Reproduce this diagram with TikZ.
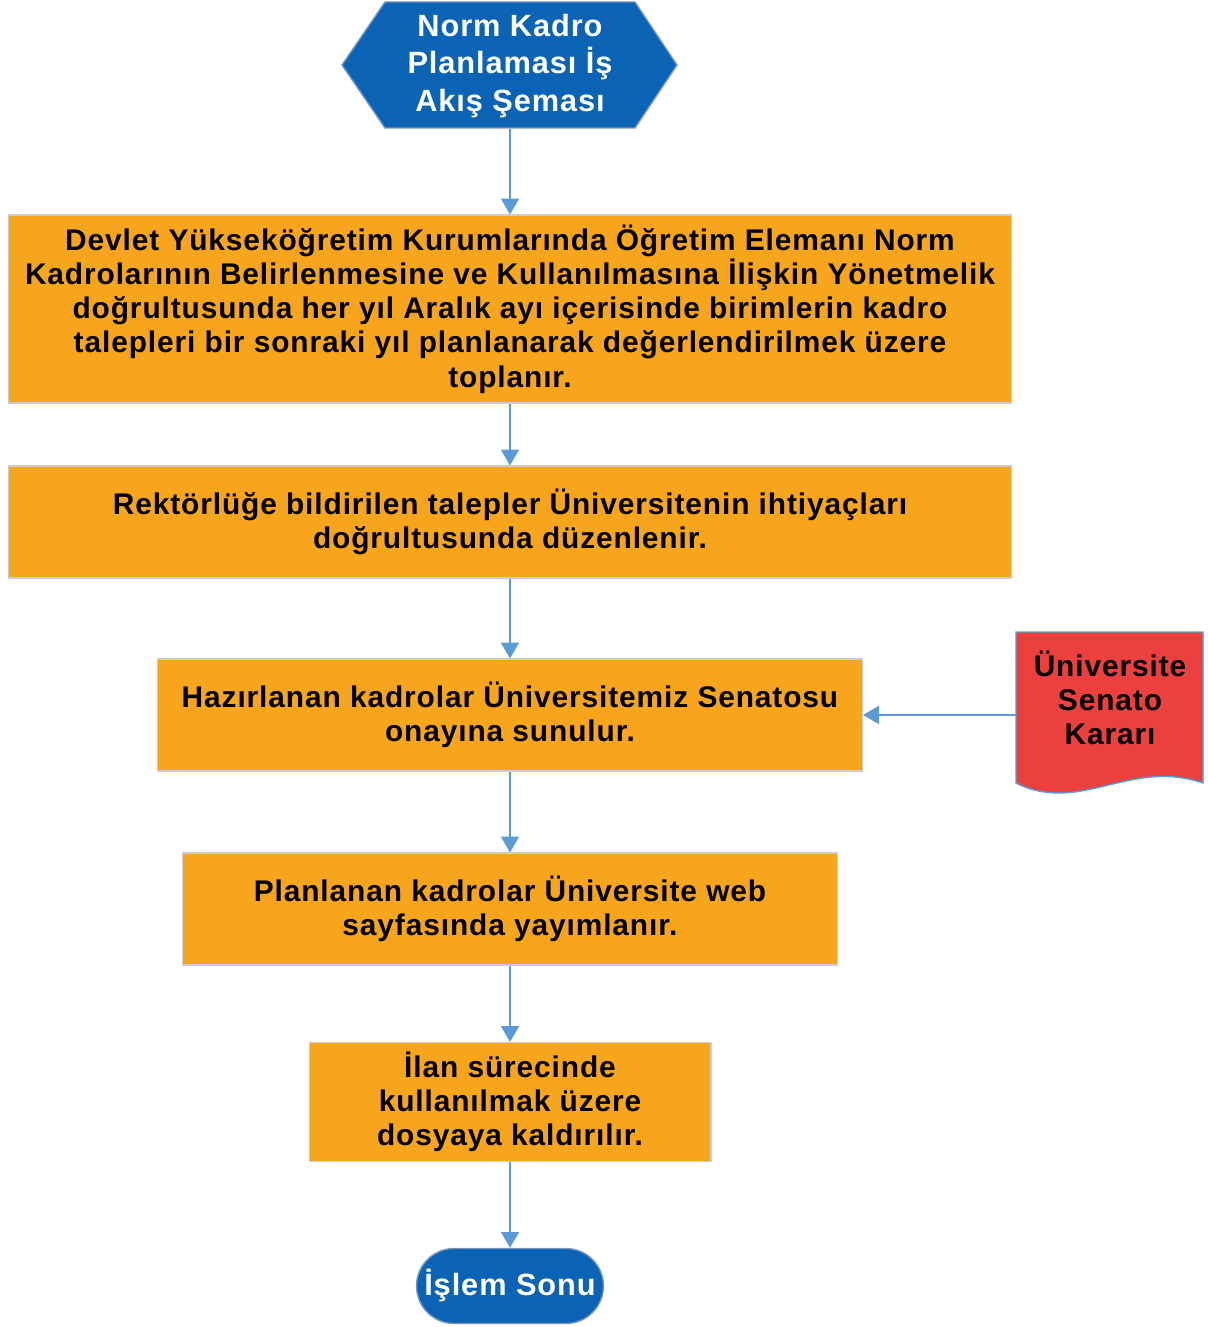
\documentclass[tikz,border=0pt]{standalone}
\usepackage{fontspec}
\setmainfont{Liberation Sans}[LetterSpace=3]
\usepackage{tikz}
\usetikzlibrary{arrows.meta}
\definecolor{flowblue}{RGB}{10,99,181}
\definecolor{flowedge}{RGB}{120,150,190}
\definecolor{floworange}{RGB}{248,165,30}
\definecolor{flowred}{RGB}{236,64,62}
\definecolor{flowarrow}{RGB}{91,155,213}

\begin{document}
\begin{tikzpicture}[x=0.02cm, y=-0.02cm,
		stepbox/.style={draw=black!20, fill=floworange, line width=0.6pt, align=center,
			font=\fontsize{17}{19.5}\selectfont\bfseries, inner sep=0pt},
		flowarrow/.style={draw=flowarrow, line width=1.6pt, -{Triangle[width=10pt,length=9pt]}}]
			\useasboundingbox (0, 0) rectangle (1207, 1327);
			%%
			\fill[flowblue, draw=flowedge, line width=0.8pt] (342, 65) -- (385, 2) -- (635, 2) -- (677, 65) -- (635, 128) -- (385, 128) -- cycle;
			\node[minimum width=6.7cm, minimum height=2.52cm, align=center, text=white,
				font=\fontsize{17.5}{21.5}\selectfont\bfseries] (start) at (510, 66) {Norm Kadro\\Planlaması İş\\Akış Şeması};
			%%
			\node[stepbox, minimum width=20.06cm, minimum height=3.76cm] (talep) at (510, 309)
				{Devlet Yükseköğretim Kurumlarında Öğretim Elemanı Norm\\Kadrolarının Belirlenmesine ve Kullanılmasına İlişkin Yönetmelik\\doğrultusunda her yıl Aralık ayı içerisinde birimlerin kadro\\talepleri bir sonraki yıl planlanarak değerlendirilmek üzere\\toplanır.};
			\node[stepbox, minimum width=20.06cm, minimum height=2.24cm] (duzen) at (510, 522)
				{Rektörlüğe bildirilen talepler Üniversitenin ihtiyaçları\\doğrultusunda düzenlenir.};
			\node[stepbox, minimum width=14.1cm, minimum height=2.24cm] (senato) at (510, 715)
				{Hazırlanan kadrolar Üniversitemiz Senatosu\\onayına sunulur.};
			\node[stepbox, minimum width=13.12cm, minimum height=2.24cm] (web) at (510, 909)
				{Planlanan kadrolar Üniversite web\\sayfasında yayımlanır.};
			\node[stepbox, minimum width=8.04cm, minimum height=2.38cm] (dosya) at (510, 1102)
				{İlan sürecinde\\kullanılmak üzere\\dosyaya kaldırılır.};
			%%
			\node[fill=flowblue, draw=flowedge, line width=0.8pt, rounded corners=0.75cm,
				minimum width=3.74cm, minimum height=1.5cm, text=white,
				font=\fontsize{17.5}{20}\selectfont\bfseries] (son) at (510, 1286) {İşlem Sonu};
			%%
			\fill[flowred, draw=flowarrow, line width=0.8pt] (1016, 632) -- (1203, 632) -- (1203, 783) .. controls (1130, 758) and (1080, 815) .. (1016, 783) -- cycle;
			\node[minimum width=3.74cm, align=center, inner sep=0pt,
				font=\fontsize{17}{19.5}\selectfont\bfseries] (karar) at (1110, 698) {Üniversite\\Senato\\Kararı};
			%%
			\draw[flowarrow] (start.south) -- (talep.north);
			\draw[flowarrow] (talep.south) -- (duzen.north);
			\draw[flowarrow] (duzen.south) -- (senato.north);
			\draw[flowarrow] (senato.south) -- (web.north);
			\draw[flowarrow] (web.south) -- (dosya.north);
			\draw[flowarrow] (dosya.south) -- (son.north);
			\draw[flowarrow] (karar.west |- senato.east) -- (senato.east);
		\end{tikzpicture}
\end{document}
